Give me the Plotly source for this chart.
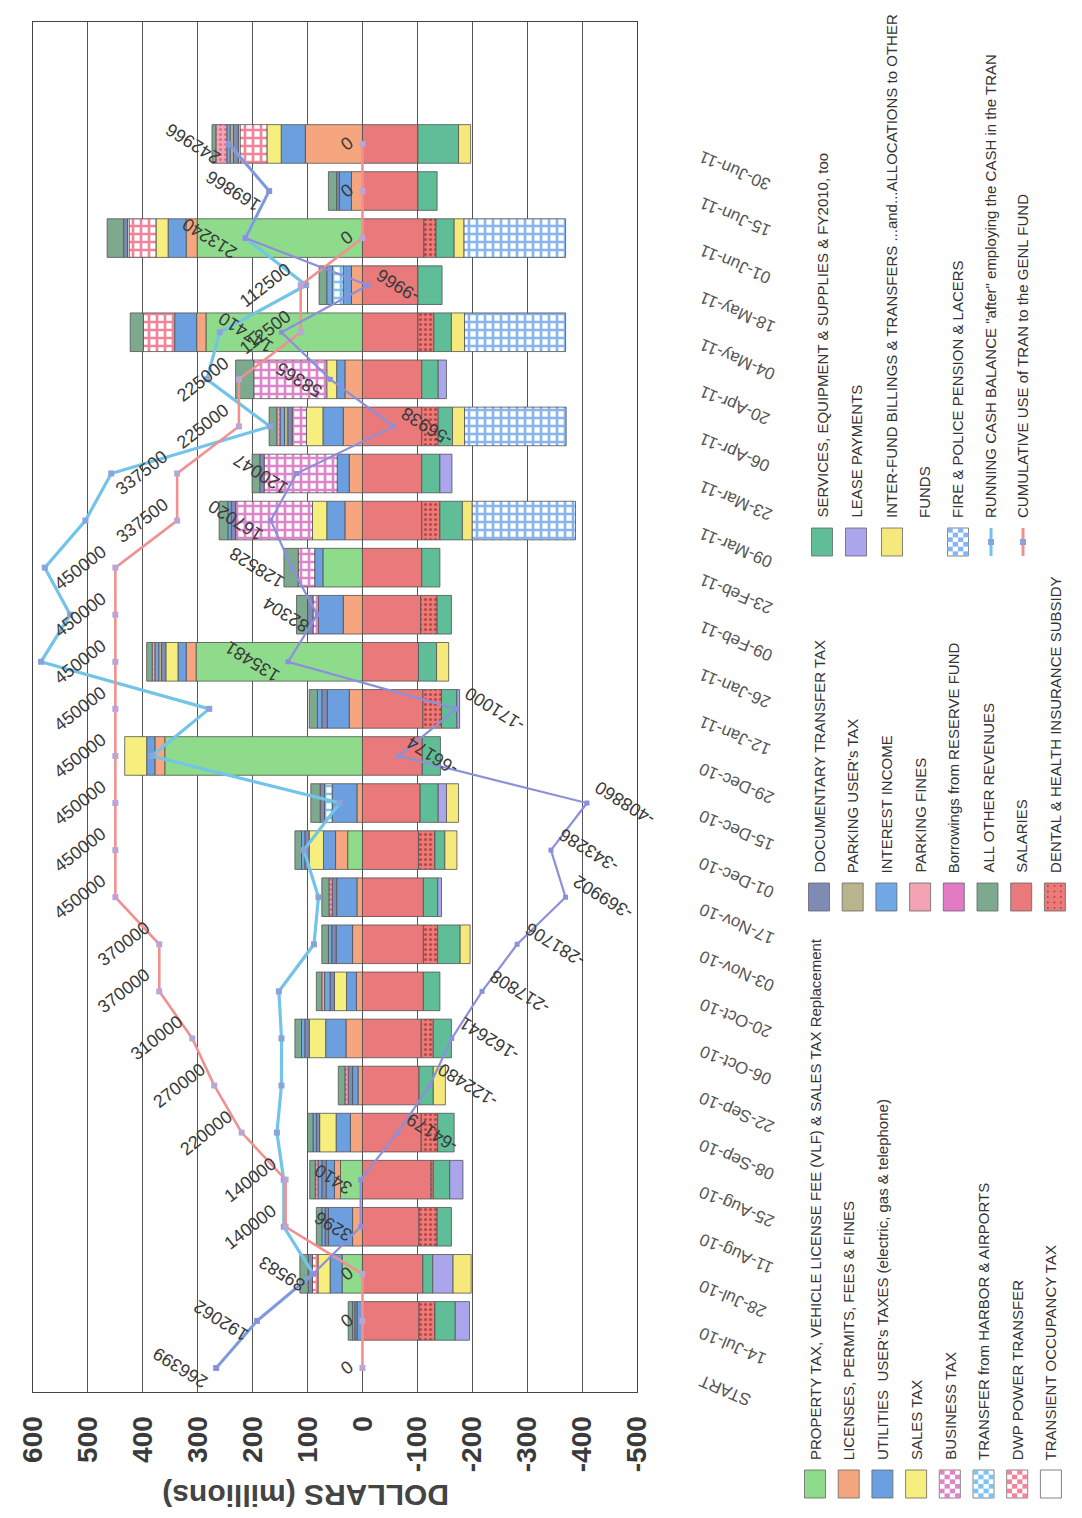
import plotly.graph_objects as go

W, H = 1082, 1518
PL, PR, PT, PB = 33, 637, 22, 1392   # plot area in pixels

categories = ["START", "14-Jul-10", "28-Jul-10", "11-Aug-10", "25-Aug-10", "08-Sep-10", "22-Sep-10",
              "06-Oct-10", "20-Oct-10", "03-Nov-10", "17-Nov-10", "01-Dec-10", "15-Dec-10", "29-Dec-10",
              "12-Jan-11", "26-Jan-11", "09-Feb-11", "23-Feb-11", "09-Mar-11", "23-Mar-11", "06-Apr-11",
              "20-Apr-11", "04-May-11", "18-May-11", "01-Jun-11", "15-Jun-11", "30-Jun-11"]

# ---- revenues (millions, positive) ----
property_tax = [0, 0, 37, 0, 40, 0, 0, 0, 0, 0, 0, 27, 0, 360, 0, 303, 0, 72, 0, 0, 0, 0, 285, 0, 301, 0, 0]
licenses = [0, 0, 0, 18, 11, 22, 8, 30, 11, 18, 10, 22, 10, 18, 24, 18, 35, 0, 32, 24, 35, 32, 17, 20, 20, 20, 104]
utilities = [0, 10, 22, 44, 15, 26, 10, 37, 18, 30, 37, 22, 45, 15, 40, 15, 45, 15, 33, 22, 37, 15, 40, 15, 33, 22, 44]
sales_tax = [0, 0, 22, 0, 0, 30, 0, 30, 22, 0, 0, 26, 0, 40, 0, 22, 0, 0, 26, 0, 30, 18, 0, 0, 22, 0, 26]
business_tax = [0, 0, 0, 0, 0, 0, 0, 0, 0, 0, 0, 0, 0, 0, 0, 0, 10, 30, 140, 133, 26, 133, 0, 0, 0, 0, 0]
harbor_airports = [0, 0, 0, 0, 0, 0, 0, 0, 0, 0, 0, 0, 14, 0, 0, 0, 0, 0, 0, 0, 0, 0, 0, 20, 0, 0, 0]
dwp_transfer = [0, 0, 10, 0, 0, 0, 0, 0, 0, 0, 0, 0, 0, 0, 0, 0, 0, 0, 0, 0, 0, 0, 57, 0, 49, 0, 49]
transient_occ = [0, 0, 0, 0, 0, 0, 0, 0, 0, 0, 0, 0, 0, 0, 0, 0, 0, 0, 0, 0, 0, 0, 0, 0, 3, 0, 3]
documentary = [0, 4, 8, 6, 8, 6, 8, 8, 8, 8, 8, 8, 8, 0, 10, 8, 10, 0, 8, 8, 8, 0, 0, 0, 7, 5, 9]
parking_user = [0, 0, 0, 0, 0, 0, 0, 0, 0, 0, 0, 0, 0, 0, 0, 5, 0, 0, 0, 0, 6, 0, 0, 0, 0, 0, 6]
interest_income = [0, 4, 0, 6, 7, 6, 0, 6, 10, 6, 0, 6, 0, 0, 8, 7, 0, 0, 6, 0, 8, 0, 0, 10, 0, 0, 6]
parking_fines = [0, 0, 0, 0, 5, 0, 6, 0, 5, 0, 6, 0, 0, 0, 0, 5, 0, 0, 0, 0, 6, 0, 0, 0, 0, 0, 20]
borrowings = [0] * 27
all_other = [0, 8, 15, 10, 10, 10, 12, 12, 10, 12, 13, 12, 17, 0, 15, 10, 20, 26, 16, 14, 14, 33, 24, 14, 30, 15, 7]

# ---- expenditures (millions, negative) ----
salaries = [0, -103, -110, -103, -125, -107, -103, -107, -111, -111, -111, -102, -105, -109, -110, -102, -106,
            -108, -108, -108, -108, -108, -101, -101, -112, -101, -101]
dental_health = [0, -29, 0, -33, -4, -30, 0, -22, 0, -26, 0, -30, 0, 0, -34, 0, -30, 0, -33, 0, -30, 0, -29, 0, -22, 0, 0]
services = [0, -37, -18, -26, -30, -30, -26, -33, -30, -41, -26, -18, -33, -33, -28, -33, -26, -33, -41, -33, -26,
            -30, -32, -44, -33, -35, -74]
lease = [0, -26, -37, 0, -24, 0, 0, 0, 0, 0, -7, 0, -15, 0, -5, 0, 0, 0, 0, -22, 0, -15, 0, 0, 0, 0, 0]
interfund = [0, 0, -33, 0, 0, 0, -22, 0, 0, -18, 0, -22, -22, 0, 0, -22, 0, 0, -18, 0, -22, 0, -24, 0, -18, 0, -22]
fire_police = [0, 0, 0, 0, 0, 0, 0, 0, 0, 0, 0, 0, 0, 0, 0, 0, 0, 0, -188, 0, -185, 0, -184, 0, -185, 0, 0]

# ---- lines ----
cash_after_tran = [266.4, 192.1, 89.6, 143.3, 143.4, 155.8, 147.5, 147.4, 152.2, 88.3, 80.1, 106.7, 41.1, 383.8,
                   279.0, 585.5, 532.3, 578.5, 504.5, 457.5, 168.1, 283.4, 259.9, 102.5, 213.2, 169.9, 243.0]
tran_use = [0, 0, 0, 140000, 140000, 220000, 270000, 310000, 370000, 370000, 450000, 450000, 450000, 450000,
            450000, 450000, 450000, 450000, 337500, 337500, 225000, 225000, 112500, 112500, 0, 0, 0]
cash_before_tran = [266399, 192062, 89583, 3296, 3410, -64179, -122480, -162641, -217808, -281706, -369902,
                    -343286, -408860, -66174, -171000, 135481, 82304, 128528, 167020, 120047, -56938, 58365,
                    147410, -9966, 213240, 169866, 242966]

x_ticks = [600, 500, 400, 300, 200, 100, 0, -100, -200, -300, -400, -500]

# ---------------------------------------------------------------------------
def fx(px):
    return px / W


def fy(py):
    return 1 - py / H


def checker(fg):
    return dict(shape="+", fgcolor=fg, bgcolor="white", size=8, solidity=0.55, fillmode="replace")


def dots(bg, fg):
    return dict(shape=".", fgcolor=fg, bgcolor=bg, size=5, solidity=0.3, fillmode="replace")


C = dict(
    prop="#8EDB8C", lic="#F6A67F", util="#6C9FE0", sales="#F6EF7E", bus="#DE84C8", harbor="#7CC3F0",
    dwp="#F2849A", tot="#FFFFFF", doc="#7F8BB5", puser="#B8B48C", interest="#70A8E6", pfines="#F4A3B5",
    borrow="#E27AC6", other="#7DA98F", sal="#E9797A", dental="#EA7B79", serv="#5FBE98", lease="#ABA6EC",
    inter="#F6E97C", fire="#86B6F0",
)

series = [
    ("PROPERTY TAX, VEHICLE LICENSE FEE (VLF) & SALES TAX Replacement", property_tax, C["prop"], None),
    ("LICENSES, PERMITS, FEES & FINES", licenses, C["lic"], None),
    ("UTILITIES  USER's TAXES (electric, gas & telephone)", utilities, C["util"], None),
    ("SALES TAX", sales_tax, C["sales"], None),
    ("BUSINESS TAX", business_tax, C["bus"], checker(C["bus"])),
    ("TRANSFER from HARBOR & AIRPORTS", harbor_airports, C["harbor"], checker(C["harbor"])),
    ("DWP POWER TRANSFER", dwp_transfer, C["dwp"], checker(C["dwp"])),
    ("TRANSIENT OCCUPANCY TAX", transient_occ, C["tot"], None),
    ("DOCUMENTARY TRANSFER TAX", documentary, C["doc"], None),
    ("PARKING USER's TAX", parking_user, C["puser"], None),
    ("INTEREST INCOME", interest_income, C["interest"], None),
    ("PARKING FINES", parking_fines, C["pfines"], dots(C["pfines"], "#D7738B")),
    ("Borrowings from RESERVE FUND", borrowings, C["borrow"], None),
    ("ALL OTHER REVENUES", all_other, C["other"], None),
    ("SALARIES", salaries, C["sal"], None),
    ("DENTAL & HEALTH INSURANCE SUBSIDY", dental_health, C["dental"], dots(C["dental"], "#B94545")),
    ("SERVICES, EQUIPMENT & SUPPLIES & FY2010, too", services, C["serv"], None),
    ("LEASE PAYMENTS", lease, C["lease"], None),
    ("INTER-FUND BILLINGS & TRANSFERS ...and...ALLOCATIONS to OTHER FUNDS", interfund, C["inter"], None),
    ("FIRE & POLICE PENSION & LACERS", fire_police, C["fire"], checker(C["fire"])),
]

fig = go.Figure()
for name, vals, color, pat in series:
    marker = dict(color=color, line=dict(color="#505050", width=0.8))
    if pat:
        marker["pattern"] = pat
    fig.add_trace(go.Bar(
        y=categories, x=[v if v != 0 else None for v in vals], orientation="h", name=name,
        marker=marker, width=0.82, showlegend=False, hoverinfo="skip"))

LBLUE, PINK, PURPLE = "#72C4E8", "#F29090", "#8C90DC"
fig.add_trace(go.Scatter(y=categories, x=cash_after_tran, mode="lines+markers", showlegend=False,
                         name='RUNNING CASH BALANCE "after" employing the CASH in the TRAN',
                         line=dict(color=LBLUE, width=3.2),
                         marker=dict(symbol="square", size=6, color="#8CA2DA")))
fig.add_trace(go.Scatter(y=categories, x=[v / 1000 for v in tran_use], mode="lines+markers", showlegend=False,
                         name="CUMULATIVE USE of TRAN to the GENL FUND",
                         line=dict(color=PINK, width=2.6),
                         marker=dict(symbol="square", size=6, color="#B9A6D6")))
fig.add_trace(go.Scatter(y=categories, x=[v / 1000 for v in cash_before_tran], mode="lines+markers",
                         showlegend=False, name="RUNNING CASH BALANCE before TRAN",
                         line=dict(color=PURPLE, width=2.2),
                         marker=dict(symbol="square", size=5, color="#8C90DC")))

ann = []
LBL_FONT = dict(family="Liberation Sans, Arial", size=18, color="#3a3a3a")
for cat, v in zip(categories, tran_use):
    ann.append(dict(x=v / 1000, y=cat, xref="x", yref="y", text=str(v), showarrow=False,
                    textangle=-38, xanchor="right", yanchor="middle", xshift=-3, font=LBL_FONT))
for cat, v in zip(categories, cash_before_tran):
    if v >= 0:
        ann.append(dict(x=v / 1000, y=cat, xref="x", yref="y", text=str(v), showarrow=False,
                        textangle=-148, xanchor="right", yanchor="middle", xshift=-2, font=LBL_FONT))
    else:
        ann.append(dict(x=v / 1000, y=cat, xref="x", yref="y", text=str(v), showarrow=False,
                        textangle=-148, xanchor="left", yanchor="middle", xshift=2, font=LBL_FONT))

# category labels (right side, rotated)
for cat in categories:
    ann.append(dict(x=fx(694), y=cat, xref="paper", yref="y", text=cat, showarrow=False,
                    textangle=-157, xanchor="left", yanchor="top", yshift=0,
                    font=dict(family="Liberation Sans, Arial", size=17, color="#555555")))

# axis title (upside-down)
ann.append(dict(x=fx(306), y=fy(1496), xref="paper", yref="paper", text="DOLLARS (millions)", showarrow=False,
                textangle=180, xanchor="center", yanchor="middle",
                font=dict(family="Liberation Sans, Arial", size=30, color="#444444", weight="bold")))

# ---------------- legend (built by hand, rotated) ----------------
shapes = []
LEG_FONT = dict(family="Liberation Sans Narrow, Arial Narrow, Liberation Sans", size=15, color="#333333")


def swatch(cx, ytop, color, kind="solid", w=21, h=28):
    x0, x1, y0, y1 = cx - w / 2, cx + w / 2, ytop, ytop + h
    if kind == "checker":
        shapes.append(dict(type="rect", xref="paper", yref="paper", x0=fx(x0), x1=fx(x1), y0=fy(y1), y1=fy(y0),
                           fillcolor="white", line=dict(color="#666", width=0.8)))
        n_c, n_r = 4, 6
        cw, ch = w / n_c, h / n_r
        for i in range(n_c):
            for j in range(n_r):
                if (i + j) % 2 == 0:
                    shapes.append(dict(type="rect", xref="paper", yref="paper",
                                       x0=fx(x0 + i * cw), x1=fx(x0 + (i + 1) * cw),
                                       y0=fy(y0 + (j + 1) * ch), y1=fy(y0 + j * ch),
                                       fillcolor=color, line=dict(width=0)))
    elif kind == "line":
        shapes.append(dict(type="line", xref="paper", yref="paper", x0=fx(cx), x1=fx(cx), y0=fy(y1), y1=fy(y0),
                           line=dict(color=color, width=3)))
        shapes.append(dict(type="rect", xref="paper", yref="paper", x0=fx(cx - 3), x1=fx(cx + 3),
                           y0=fy(ytop + h / 2 + 3), y1=fy(ytop + h / 2 - 3), fillcolor="#8CA2DA",
                           line=dict(width=0)))
    else:
        shapes.append(dict(type="rect", xref="paper", yref="paper", x0=fx(x0), x1=fx(x1), y0=fy(y1), y1=fy(y0),
                           fillcolor=color, line=dict(color="#666", width=0.8)))
        if kind == "dots":
            for i in range(3):
                for j in range(5):
                    px = x0 + 3.5 + i * 6.5
                    py = y0 + 3 + j * 5.5
                    shapes.append(dict(type="circle", xref="paper", yref="paper",
                                       x0=fx(px - 1), x1=fx(px + 1), y0=fy(py + 1), y1=fy(py - 1),
                                       fillcolor="#B94545", line=dict(width=0)))


def leg_text(cx, ybottom, text):
    ann.append(dict(x=fx(cx), y=fy(ybottom), xref="paper", yref="paper", text=text, showarrow=False,
                    textangle=-90, xanchor="center", yanchor="bottom", font=LEG_FONT))


group1 = [("PROPERTY TAX, VEHICLE LICENSE FEE (VLF) & SALES TAX Replacement", C["prop"], "solid"),
          ("LICENSES, PERMITS, FEES & FINES", C["lic"], "solid"),
          ("UTILITIES  USER's TAXES (electric, gas & telephone)", C["util"], "solid"),
          ("SALES TAX", C["sales"], "solid"),
          ("BUSINESS TAX", C["bus"], "checker"),
          ("TRANSFER from HARBOR & AIRPORTS", C["harbor"], "checker"),
          ("DWP POWER TRANSFER", C["dwp"], "checker"),
          ("TRANSIENT OCCUPANCY TAX", "#FFFFFF", "solid")]
group2 = [("DOCUMENTARY TRANSFER TAX", C["doc"], "solid"),
          ("PARKING USER's TAX", C["puser"], "solid"),
          ("INTEREST INCOME", C["interest"], "solid"),
          ("PARKING FINES", C["pfines"], "solid"),
          ("Borrowings from RESERVE FUND", C["borrow"], "solid"),
          ("ALL OTHER REVENUES", C["other"], "solid"),
          ("SALARIES", C["sal"], "solid"),
          ("DENTAL & HEALTH INSURANCE SUBSIDY", C["dental"], "dots")]
for i, (t, col, kind) in enumerate(group1):
    cx = 815 + 33.7 * i
    swatch(cx, 1470, col, kind)
    leg_text(cx, 1462, t)
for i, (t, col, kind) in enumerate(group2):
    cx = 819 + 33.7 * i
    swatch(cx, 883, col, kind)
    leg_text(cx, 875, t)

g3x = [822, 856, 892, 958, 991, 1023]
swatch(g3x[0], 528, C["serv"])
leg_text(g3x[0], 520, "SERVICES, EQUIPMENT & SUPPLIES & FY2010, too")
swatch(g3x[1], 528, C["lease"])
leg_text(g3x[1], 520, "LEASE PAYMENTS")
swatch(g3x[2], 528, C["inter"])
leg_text(g3x[2], 520, "INTER-FUND BILLINGS & TRANSFERS ...and...ALLOCATIONS to OTHER")
leg_text(925, 520, "FUNDS")
swatch(g3x[3], 528, C["fire"], "checker")
leg_text(g3x[3], 520, "FIRE & POLICE PENSION & LACERS")
swatch(g3x[4], 528, LBLUE, "line")
leg_text(g3x[4], 520, 'RUNNING CASH BALANCE "after" employing the CASH in the TRAN')
swatch(g3x[5], 528, PINK, "line")
leg_text(g3x[5], 520, "CUMULATIVE USE of TRAN to the GENL FUND")

fig.update_layout(
    width=W, height=H, margin=dict(l=0, r=0, t=0, b=0),
    paper_bgcolor="white", plot_bgcolor="white",
    barmode="relative", showlegend=False,
    annotations=ann, shapes=shapes,
    xaxis=dict(domain=[PL / W, PR / W], range=[600, -500], tickmode="array", tickvals=x_ticks,
               ticktext=[str(v) for v in x_ticks], tickangle=-90, ticks="", ticklabelstandoff=12,
               tickfont=dict(family="Liberation Sans, Arial", size=28, color="#3a3a3a", weight="bold"),
               showgrid=True, gridcolor="#555555", gridwidth=1, zeroline=False,
               showline=True, linecolor="#444444", linewidth=1, mirror=True, automargin=False),
    yaxis=dict(domain=[1 - PB / H, 1 - PT / H], type="category", categoryorder="array",
               categoryarray=categories, range=[-0.51, 28.59], showticklabels=False, ticks="",
               showgrid=False, zeroline=False, showline=True, linecolor="#444444", linewidth=1,
               mirror=True, automargin=False),
)

fig.write_html("out.html")
